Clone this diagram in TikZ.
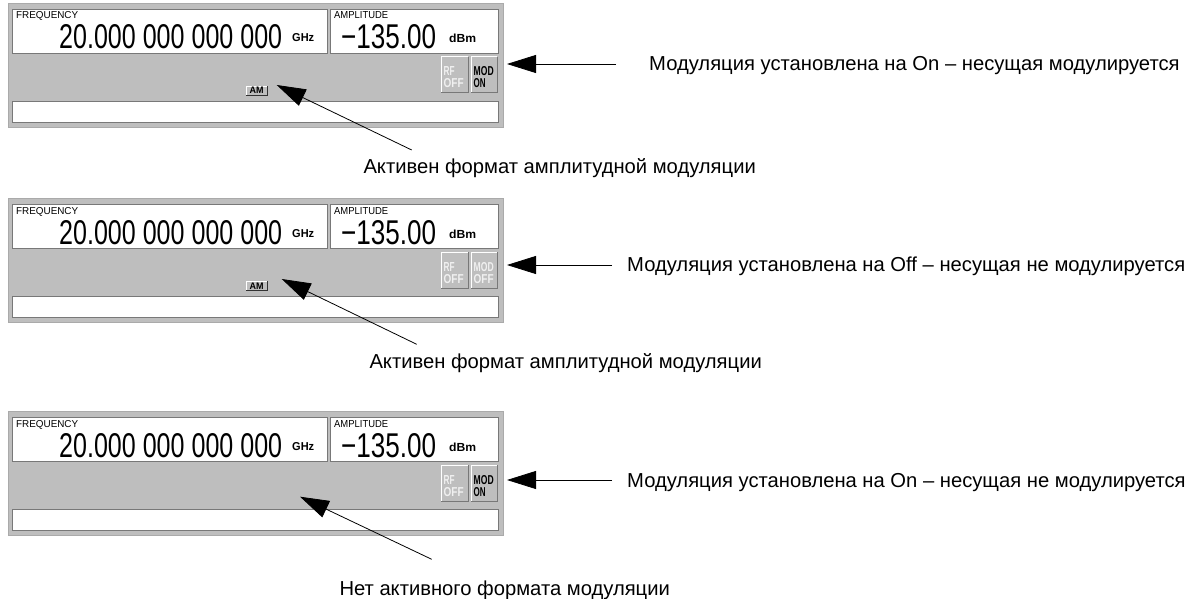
\documentclass[tikz,border=0pt]{standalone}
\usepackage{fontspec}
\setmainfont{Liberation Sans}
\usetikzlibrary{arrows.meta}
\definecolor{panelgray}{RGB}{190,190,190}
\definecolor{edgegray}{RGB}{120,120,120}
\definecolor{rimgray}{RGB}{170,170,170}
\definecolor{dimtext}{RGB}{240,240,240}
\tikzset{
  lbl/.style={anchor=base west, inner sep=0pt, font=\fontsize{20.2}{24}\selectfont},
  ptxt/.style={anchor=base west, inner sep=0pt},
  callout/.style={draw=black, line width=0.8pt, -{Triangle[length=29pt,width=18pt]}},
  panelbg/.style={fill=panelgray, draw=rimgray, line width=0.8pt},
  screen/.style={fill=white, draw=edgegray, line width=0.8pt},
}
% #1 prefix, #2 y offset, #3 width of second line of MOD key, #4 colour of MOD text, #5 AM key (1 = shown)
\newcommand\dispanel[5]{%
\begin{scope}[shift={(0,#2)}]
  \path[panelbg] (8,3) rectangle (503,127);
  \path[screen] (12,9) rectangle (327,53);
  \path[screen] (330,9) rectangle (498,53);
  \path[screen] (12,101) rectangle (498,122);
  % RF key
  \fill[panelgray] (441,57) rectangle (468,93);
  \draw[white, line width=1pt] (441,93) |- (468,57);
  \draw[edgegray, line width=1pt] (441,93) -| (468,57);
  % MOD key
  \fill[panelgray] (471,57) rectangle (497,93);
  \draw[white, line width=1pt] (471,93) |- (497,57);
  \draw[edgegray, line width=1pt] (471,93) -| (497,57);
  \node[ptxt] (#1fl) at (16,19) {\resizebox{62pt}{7pt}{FREQUENCY}};
  \node[ptxt] (#1fv) at (59,49) {\resizebox{223pt}{24pt}{20.000 000 000 000}};
  \node[ptxt] (#1fu) at (292,42) {\resizebox{22pt}{8pt}{\bfseries GHz}};
  \node[ptxt] (#1al) at (334,19) {\resizebox{54pt}{7pt}{AMPLITUDE}};
  \node[ptxt] (#1av) at (341,49) {\resizebox{95pt}{24pt}{−135.00}};
  \node[ptxt] (#1au) at (449,43) {\resizebox{27pt}{8.5pt}{\bfseries dBm}};
  \node[ptxt, text=dimtext] (#1rf) at (443.5,76) {\resizebox{11pt}{9pt}{\bfseries RF}};
  \node[ptxt, text=dimtext] (#1ro) at (443.5,88) {\resizebox{20pt}{9pt}{\bfseries OFF}};
  \node[ptxt, text=#4] (#1md) at (473.5,76) {\resizebox{20pt}{9pt}{\bfseries MOD}};
  \node[ptxt, text=#4] (#1mo) at (473.5,88) {\resizebox{#3}{9pt}{\bfseries\csname my#1st\endcsname}};
  \ifnum#5=1
    \fill[panelgray] (246,86) rectangle (267,95.6);
    \draw[white, line width=0.8pt] (246,95.6) |- (267,86);
    \draw[black!80, line width=0.8pt] (246,95.6) -| (267,86);
    \node[ptxt] (#1am) at (249.5,94) {\resizebox{14pt}{6.5pt}{\bfseries AM}};
  \fi
\end{scope}}
\expandafter\def\csname myaonest\endcsname{ON}
\expandafter\def\csname myatwost\endcsname{OFF}
\expandafter\def\csname myathreest\endcsname{ON}
\begin{document}
\begin{tikzpicture}[x=1pt,y=-1pt]
  \useasboundingbox (0,0) rectangle (1202,599);
  \fill[white] (0,0) rectangle (1202,599);

  \dispanel{aone}{0}{12pt}{black}{1}
  \dispanel{atwo}{195}{20pt}{dimtext}{1}
  \dispanel{athree}{408}{12pt}{black}{0}

  % right-hand callouts
  \node[lbl] (l1) at (649,71) {Модуляция установлена на On – несущая модулируется};
  \node[lbl] (l2) at (627,271) {Модуляция установлена на Off – несущая не модулируется};
  \node[lbl] (l3) at (627,487) {Модуляция установлена на On – несущая не модулируется};
  \coordinate (t1) at (616,64);  \coordinate (h1) at (507,64);
  \coordinate (t2) at (612,265); \coordinate (h2) at (507,265);
  \coordinate (t3) at (612,480); \coordinate (h3) at (507,480);
  \draw[callout] (t1) -- (h1);
  \draw[callout] (t2) -- (h2);
  \draw[callout] (t3) -- (h3);

  % lower callouts
  \node[lbl] (d1) at (363.3,174) {Активен формат амплитудной модуляции};
  \node[lbl] (d2) at (369.3,368.3) {Активен формат амплитудной модуляции};
  \node[lbl] (d3) at (339.3,595) {Нет активного формата модуляции};
  \coordinate (u1) at (411.7,150); \coordinate (v1) at (276.7,85);
  \coordinate (u2) at (416.7,344.3); \coordinate (v2) at (281.7,279);
  \coordinate (u3) at (431.7,559.3); \coordinate (v3) at (300,496.7);
  \draw[callout] (u1) -- (v1);
  \draw[callout] (u2) -- (v2);
  \draw[callout] (u3) -- (v3);
\end{tikzpicture}
\end{document}
